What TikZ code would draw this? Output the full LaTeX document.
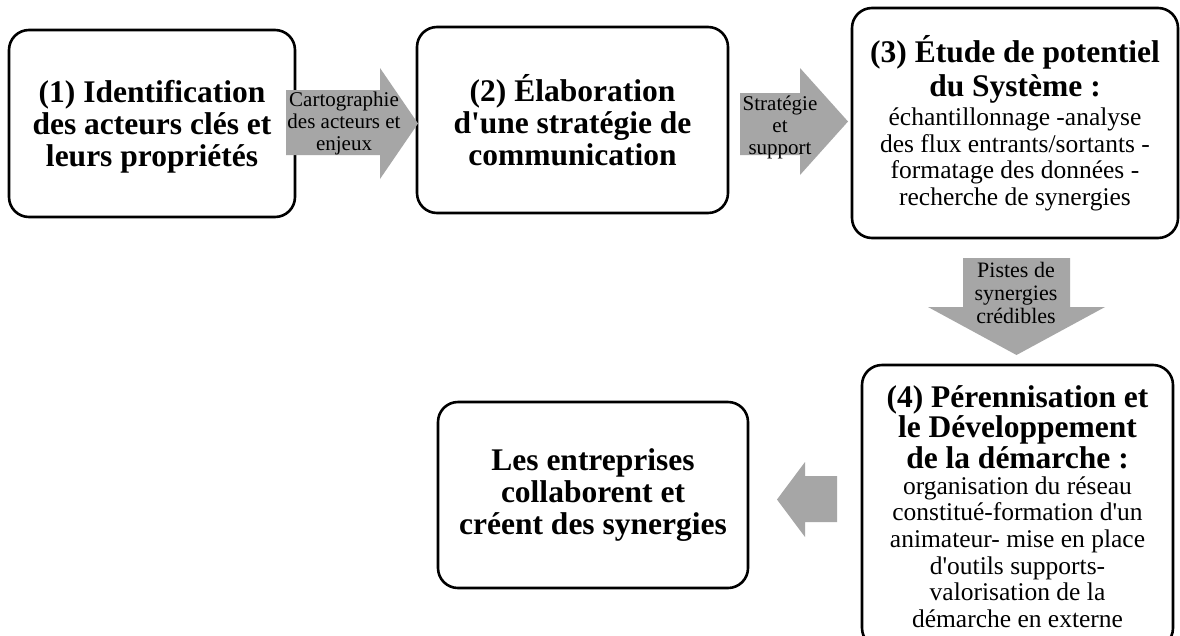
\documentclass[tikz,border=0pt]{standalone}
\usepackage{fontspec}
\setmainfont{Liberation Serif}[Ligatures=TeXOff]
\definecolor{arrowgray}{RGB}{166,166,166}
\tikzset{
  box/.style={draw=black, line width=2.6pt, rounded corners=20pt, fill=white, align=center, inner sep=0pt},
  titlefont/.style={font=\fontsize{31.5}{32}\selectfont\bfseries},
  lbl/.style={font=\fontsize{21}{22}\selectfont, align=center, inner sep=0pt},
  blockarrow/.style={fill=arrowgray, draw=none}
}
\begin{document}
\begin{tikzpicture}[x=1pt,y=-1pt]
\useasboundingbox (0,0) rectangle (1180,635);
\fill[white] (0,0) rectangle (1180,635);
\begin{scope}
\clip (0,0) rectangle (1180,635);
% boxes
\node[box, minimum width=286pt, minimum height=187pt] (b1) at (152,123.5) {};
\node[titlefont, align=center, inner sep=0pt] (b1t) at (152,127)
  {(1) Identification\\des acteurs clés et\\leurs propriétés};
\node[box, titlefont, minimum width=311pt, minimum height=186pt] (b2) at (572.5,120)
  {(2) Élaboration\\d'une stratégie de\\communication};
\node[box, minimum width=326pt, minimum height=230pt, font=\fontsize{25.5}{26.7}\selectfont] (b3) at (1015,123)
  {{\fontsize{31.5}{32}\selectfont\bfseries (3) Étude de potentiel}\\[5pt]
   {\fontsize{31.5}{32}\selectfont\bfseries du Système :}\\[2pt]
   échantillonnage -analyse\\
   des flux entrants/sortants -\\
   formatage des données -\\
   recherche de synergies};
\node[box, minimum width=311pt, minimum height=283pt, font=\fontsize{25.5}{26.7}\selectfont] (b4) at (1017.5,506.5)
  {{\fontsize{31.5}{32}\selectfont\bfseries (4) Pérennisation et}\\[1pt]
   {\fontsize{31.5}{32}\selectfont\bfseries le Développement}\\[1pt]
   {\fontsize{31.5}{32}\selectfont\bfseries de la démarche :}\\[-1pt]
   organisation du réseau\\
   constitué-formation d'un\\
   animateur- mise en place\\
   d'outils supports-\\
   valorisation de la\\
   démarche en externe};
\node[box, titlefont, minimum width=310pt, minimum height=186pt] (b5) at (593,495)
  {Les entreprises\\collaborent et\\créent des synergies};
% block arrows
\fill[blockarrow] (286,90) -- (380,90) -- (380,68) -- (418,123.5) -- (380,179) -- (380,155) -- (286,155) -- cycle;
\node[lbl] (l1) at (344,123) {Cartographie\\des acteurs et\\enjeux};
\fill[blockarrow] (740,93) -- (800,93) -- (800,68) -- (848,121.5) -- (800,175) -- (800,155) -- (740,155) -- cycle;
\node[lbl] (l2) at (780,127) {Stratégie\\et\\support};
\fill[blockarrow] (963,258) -- (1070,258) -- (1070,307) -- (1105,307) -- (1016.5,355) -- (928,307) -- (963,307) -- cycle;
\node[lbl, font=\fontsize{22}{23.3}\selectfont] (l3) at (1016,293) {Pistes de\\synergies\\crédibles};
\fill[blockarrow] (837,476) -- (805,476) -- (805,462) -- (777,499.5) -- (805,537) -- (805,522) -- (837,522) -- cycle;
\end{scope}
\end{tikzpicture}
\end{document}
